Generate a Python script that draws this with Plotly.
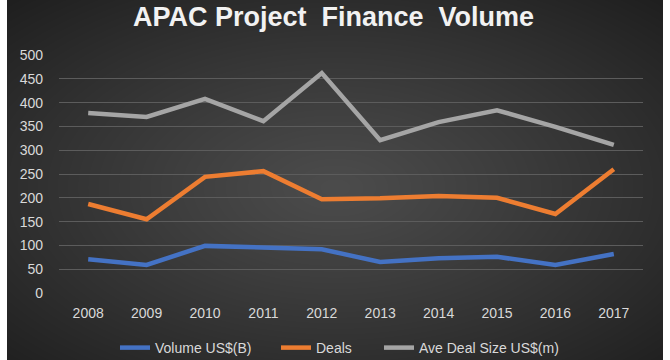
import base64, struct, zlib
import numpy as np
import plotly.graph_objects as go

years = ["2008", "2009", "2010", "2011", "2012", "2013", "2014", "2015", "2016", "2017"]
volume = [71, 59, 99, 95, 92, 65, 73, 76, 59, 82]
deals = [187, 155, 244, 256, 197, 199, 204, 200, 166, 260]
ave_size = [378, 370, 408, 361, 462, 321, 359, 384, 349, 311]
y_ticks = [0, 50, 100, 150, 200, 250, 300, 350, 400, 450, 500]

W, H = 670, 360
L, R, T, B = 59, 27, 55, 67
BG_X0, BG_X1 = 7, 663


def make_png(arr):
    h, w, _ = arr.shape
    raw = b"".join(b"\x00" + arr[i].tobytes() for i in range(h))

    def chunk(tag, data):
        c = struct.pack(">I", len(data)) + tag + data
        return c + struct.pack(">I", zlib.crc32(tag + data) & 0xFFFFFFFF)

    return (b"\x89PNG\r\n\x1a\n" + chunk(b"IHDR", struct.pack(">IIBBBBB", w, h, 8, 2, 0, 0, 0))
            + chunk(b"IDAT", zlib.compress(raw, 9)) + chunk(b"IEND", b""))


bw, bh = BG_X1 - BG_X0, H
yy, xx = np.mgrid[0:bh, 0:bw].astype(float)
cx, cy = bw * 0.5, bh * 0.52
d = np.sqrt(((xx - cx) / (bw * 0.5)) ** 2 + ((yy - cy) / (bh * 0.5)) ** 2) / np.sqrt(2)
val = np.clip(76 - 44 * d ** 1.1, 0, 255).astype(np.uint8)
img = np.stack([val, val, val], axis=-1)
src = "data:image/png;base64," + base64.b64encode(make_png(img)).decode()

pw, ph = W - L - R, H - T - B

fig = go.Figure()
series = [("Volume US$(B)", volume, "#4472C4", 116),
          ("Deals", deals, "#ED7D31", 58),
          ("Ave Deal Size US$(m)", ave_size, "#A5A5A5", 140)]
for name, vals, col, lw in series:
    fig.add_trace(go.Scatter(x=years, y=vals, name=name, mode="lines",
                             line=dict(color=col, width=4.5), legendwidth=lw))

fig.add_layout_image(dict(source=src, xref="paper", yref="paper",
                          x=(BG_X0 - L) / pw, y=1 + T / ph,
                          sizex=bw / pw, sizey=bh / ph,
                          sizing="stretch", xanchor="left", yanchor="top",
                          layer="below"))

font = "Liberation Sans"
fig.update_layout(
    width=W, height=H,
    margin=dict(l=L, r=R, t=T, b=B, autoexpand=False),
    paper_bgcolor="white",
    plot_bgcolor="rgba(0,0,0,0)",
    title=dict(text="<b>APAC Project  Finance  Volume</b>", x=(135 + 532) / 2 / W,
               xanchor="center", y=1 - 17 / H, yanchor="middle",
               font=dict(family=font, size=27, color="#f2f2f2")),
    xaxis=dict(type="category", range=[-0.5, 9.5], showgrid=False, zeroline=False,
               showline=False, ticks="", ticklabelstandoff=10, automargin=False,
               tickfont=dict(family=font, size=14, color="#d9d9d9")),
    yaxis=dict(range=[0, 500], tickvals=y_ticks, showgrid=True,
               gridcolor="#5c5c5c", gridwidth=1, zeroline=False, showline=False,
               ticks="", ticklen=0, ticklabelstandoff=15, automargin=False,
               tickfont=dict(family=font, size=14, color="#d9d9d9")),
    legend=dict(orientation="h", x=(115 - L) / pw, xanchor="left",
                y=-(348 - T - ph) / ph, yanchor="middle", bgcolor="rgba(0,0,0,0)",
                font=dict(family=font, size=14, color="#d9d9d9")),
    showlegend=True,
)
fig.write_html("out.html", config={"displayModeBar": False},
               post_script="document.body.style.margin='0';document.body.style.overflow='hidden';")
